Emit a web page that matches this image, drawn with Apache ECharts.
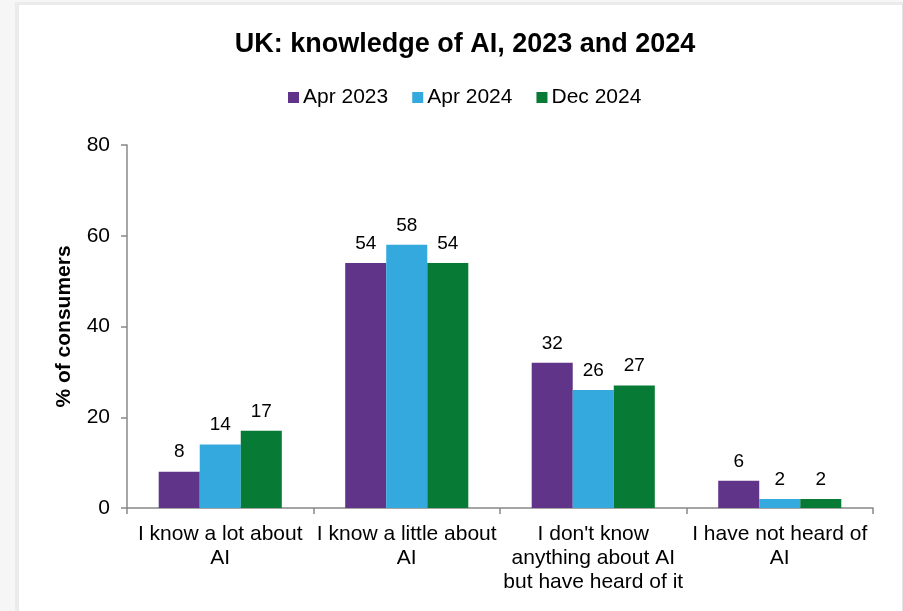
<!DOCTYPE html>
<html>
<head>
<meta charset="utf-8">
<script src="https://cdn.jsdelivr.net/npm/echarts@6/dist/echarts.min.js"></script>
<style>
  html, body { margin: 0; padding: 0; width: 903px; height: 611px; overflow: hidden; background: #f6f6f6; }
  #panel { position: absolute; left: 15px; top: 2px; width: 883px; height: 609px;
           background: #ffffff; border-left: 4px solid #ebebeb; border-top: 3px solid #ebebeb;
           border-right: 1px solid #e2e2e2; }
  #chart { position: absolute; left: 0; top: 0; width: 903px; height: 611px; }
</style>
</head>
<body>
<div id="panel"></div>
<div id="chart"></div>
<script>
// Survey answers on the x axis
const categories = [
  "I know a lot about\nAI",
  "I know a little about\nAI",
  "I don't know\nanything about AI\nbut have heard of it",
  "I have not heard of\nAI"
];
// Share of consumers (%) per survey wave
const seriesNames = ["Apr 2023", "Apr 2024", "Dec 2024"];
const apr2023 = [8, 54, 32, 6];
const apr2024 = [14, 58, 26, 2];
const dec2024 = [17, 54, 27, 2];
const yTicks = [0, 20, 40, 60, 80];

const colors = ["#603589", "#33a9de", "#077a36"];
const font = "'Liberation Sans', Arial, sans-serif";

const chart = echarts.init(document.getElementById("chart"), null, { renderer: "canvas" });

function bar(name, data, color) {
  return {
    name: name,
    type: "bar",
    data: data,
    barGap: "0%",
    barCategoryGap: "34%",
    itemStyle: { color: color },
    label: {
      show: true,
      position: "top",
      distance: 10,
      color: "#000",
      fontFamily: font,
      fontSize: 19
    }
  };
}

chart.setOption({
  backgroundColor: "transparent",
  animation: false,
  color: colors,
  title: {
    text: "UK: knowledge of AI, 2023 and 2024",
    left: 460,
    textAlign: "center",
    top: 26,
    textStyle: { fontFamily: font, fontWeight: "bold", fontSize: 27, color: "#000" }
  },
  legend: {
    data: seriesNames,
    left: 283,
    top: 82,
    itemWidth: 11,
    itemHeight: 11,
    itemGap: 24,
    icon: "rect",
    textStyle: { fontFamily: font, fontSize: 21, color: "#000", padding: [0, 0, 0, -1] }
  },
  grid: { left: 127, right: 30, top: 145, bottom: 103, containLabel: false },
  xAxis: {
    type: "category",
    data: categories,
    axisLine: { lineStyle: { color: "#888888", width: 1.5 } },
    axisTick: { show: true, length: 6, alignWithLabel: false, lineStyle: { color: "#888888", width: 1.5 } },
    axisLabel: {
      interval: 0,
      margin: 14,
      color: "#000",
      fontFamily: font,
      fontSize: 21,
      lineHeight: 24
    }
  },
  yAxis: {
    type: "value",
    min: yTicks[0],
    max: yTicks[yTicks.length - 1],
    interval: 20,
    name: "% of consumers",
    nameLocation: "middle",
    nameRotate: 90,
    nameGap: 52,
    nameTextStyle: { fontFamily: font, fontWeight: "bold", fontSize: 21, color: "#000" },
    axisLine: { show: true, lineStyle: { color: "#888888", width: 1.5 } },
    axisTick: { show: true, length: 6, lineStyle: { color: "#888888", width: 1.5 } },
    splitLine: { show: false },
    axisLabel: { margin: 17, color: "#000", fontFamily: font, fontSize: 21 }
  },
  series: [
    bar(seriesNames[0], apr2023, colors[0]),
    bar(seriesNames[1], apr2024, colors[1]),
    bar(seriesNames[2], dec2024, colors[2])
  ]
});
</script>
</body>
</html>
